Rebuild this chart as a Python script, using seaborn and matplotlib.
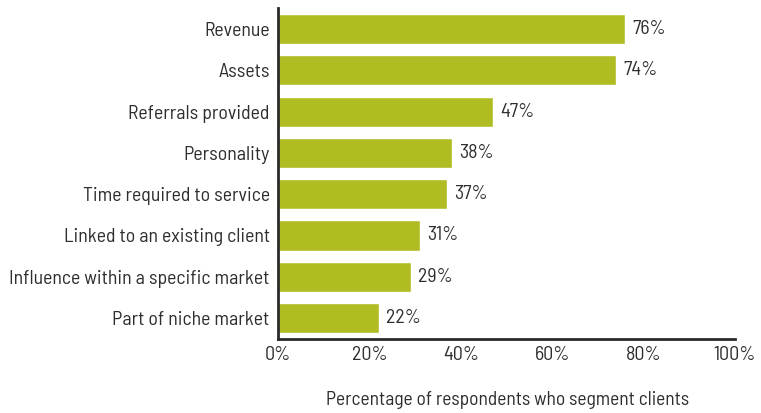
import matplotlib
matplotlib.use("Agg")
import matplotlib.pyplot as plt
import seaborn as sns
import pandas as pd

categories = [
    "Revenue",
    "Assets",
    "Referrals provided",
    "Personality",
    "Time required to service",
    "Linked to an existing client",
    "Influence within a specific market",
    "Part of niche market",
]
values = [76, 74, 47, 38, 37, 31, 29, 22]
x_ticks = [0, 20, 40, 60, 80, 100]
x_tick_labels = ["0%", "20%", "40%", "60%", "80%", "100%"]
x_label = "Percentage of respondents who segment clients"

bar_color = "#AFBD22"
text_color = "#2e2e2e"

sns.set_theme(style="white")
plt.rcParams["font.family"] = ["Barlow Semi Condensed", "Liberation Sans", "DejaVu Sans"]

df = pd.DataFrame({"category": categories, "value": values})

fig = plt.figure(figsize=(7.61, 4.13), dpi=100)
ax = fig.add_axes([0.3653, 0.180, 0.6005, 0.7995])

sns.barplot(data=df, x="value", y="category", color=bar_color, width=0.73,
            saturation=1, ax=ax)

# value labels to the right of each bar
for patch, v in zip(ax.patches, values):
    y = patch.get_y() + patch.get_height() / 2
    ax.text(v + 1.6, y, f"{v}%", va="center", ha="left", fontsize=14.3,
            color=text_color)

ax.set_xlim(0, 100)
ax.set_ylim(7.5, -0.5)
ax.set_xticks(x_ticks)
ax.set_xticklabels(x_tick_labels)
ax.set_ylabel("")
ax.set_xlabel(x_label, fontsize=14, color=text_color, va="center")
ax.xaxis.set_label_coords(0.503, -0.186)
ax.tick_params(axis="both", length=0, labelsize=14.3, colors=text_color)
ax.tick_params(axis="y", pad=6)
ax.tick_params(axis="x", pad=5)

for side in ["top", "right"]:
    ax.spines[side].set_visible(False)
for side in ["left", "bottom"]:
    ax.spines[side].set_color("#2a2a2a")
    ax.spines[side].set_linewidth(2)

fig.savefig("out.png", dpi=100)
